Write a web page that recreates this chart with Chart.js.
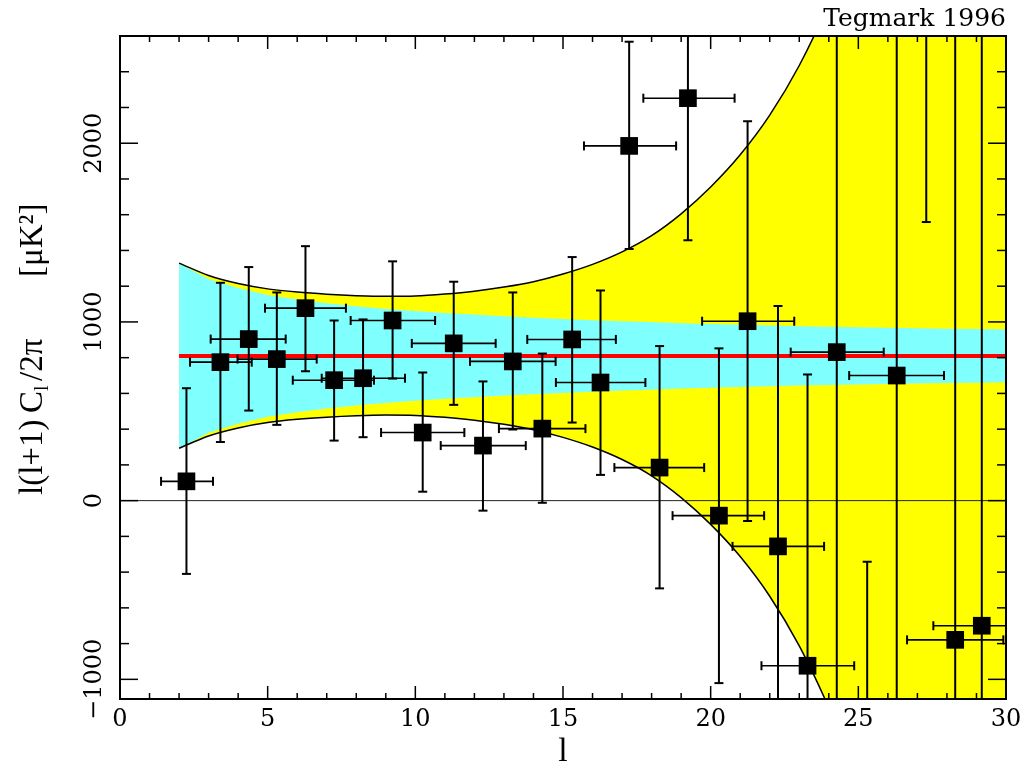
<!DOCTYPE html>
<html>
<head>
<meta charset="utf-8">
<script src="https://cdn.jsdelivr.net/npm/chart.js@4.4.1/dist/chart.umd.min.js"></script>
<style>
  body { margin: 0; background: #fff; }
  canvas { display: block; }
</style>
</head>
<body>
<canvas id="c" width="1028" height="772"></canvas>
<script>
// theory band, sampled at integer l
const bandL = [2, 3, 4, 5, 6, 7, 8, 9, 10, 11, 12, 13, 14, 15, 16, 17, 18, 19, 20, 21, 22, 23, 24, 25, 26, 27, 28, 29, 30]
const outerHi = [1329, 1260, 1215, 1185, 1167, 1155, 1147, 1143, 1145, 1156, 1172, 1195, 1225, 1268, 1322, 1392, 1483, 1605, 1755, 1935, 2157, 2435, 2780, 3180, 3650, 4200, 4800, 5500, 6300]
const outerLo = [293, 362, 407, 437, 455, 467, 475, 479, 477, 466, 450, 427, 397, 354, 300, 230, 139, 17, -133, -313, -535, -813, -1158, -1558, -2028, -2578, -3178, -3878, -4678]
const cyanHi = [1328, 1240, 1190, 1150, 1125, 1105, 1088, 1073, 1061, 1050, 1041, 1032, 1024, 1017, 1010, 1004, 999, 993, 988, 984, 980, 976, 973, 970, 967, 964, 962, 960, 958]
const cyanLo = [292, 380, 430, 470, 495, 515, 532, 547, 559, 570, 579, 588, 596, 603, 610, 616, 621, 627, 632, 636, 640, 644, 647, 650, 653, 656, 658, 660, 662]
const modelLevel = 810

// measurements: centre, vertical error range, horizontal l range
const ptL = [2.25, 3.40, 4.36, 5.31, 6.28, 7.25, 8.23, 9.23, 10.25, 11.30, 12.29, 13.30, 14.30, 15.31, 16.27, 17.24, 18.27, 19.23, 20.28, 21.25, 22.28, 23.28, 24.27, 25.30, 26.30, 27.30, 28.28, 29.18]
const ptV = [108, 775, 904, 792, 1077, 674, 685, 1008, 381, 880, 308, 779, 403, 902, 661, 1985, 185, 2252, -84, 1004, -256, -924, 831, -1800, 700, 3200, -779, -700]
const ptLo = [-410, 328, 504, 424, 724, 336, 355, 683, 50, 536, -56, 398, -12, 437, 144, 1408, -491, 1457, -1021, -114, -1500, -2600, -1500, -3500, -1500, 1559, -2500, -2500]
const ptHi = [629, 1219, 1307, 1165, 1424, 1008, 1014, 1339, 717, 1225, 667, 1165, 823, 1363, 1176, 2568, 865, 3100, 852, 2123, 1089, 706, 3100, -342, 3000, 5000, 3000, 3000]
const lLo = [1.39, 2.37, 3.07, 3.98, 4.91, 5.85, 6.83, 7.81, 8.84, 9.88, 10.86, 11.85, 12.83, 13.79, 14.76, 15.71, 16.74, 17.72, 18.71, 19.71, 20.74, 21.72, 22.71, 23.75, 24.69, 25.75, 26.65, 27.54]
const lHi = [3.15, 4.46, 5.61, 6.66, 7.65, 8.60, 9.65, 10.67, 11.66, 12.72, 13.74, 14.75, 15.76, 16.79, 17.79, 18.83, 19.78, 20.81, 21.81, 22.83, 23.84, 24.86, 25.86, 26.85, 27.90, 28.85, 29.91, 30.80]

const xTicks = [0, 5, 10, 15, 20, 25, 30]
const yTicks = [-1000, 0, 1000, 2000]

const serif = 'DejaVu Serif'
const titleSerif = 'Liberation Serif'

const pts = (xs, ys) => xs.map((v, i) => ({ x: v, y: ys[i] }))

function seg(ctx, x1, y1, x2, y2) {
	ctx.beginPath()
	ctx.moveTo(x1, y1)
	ctx.lineTo(x2, y2)
	ctx.stroke()
}

const errorBars = {
	id: 'errorBars',
	afterDatasetsDraw(chart) {
		const { ctx, chartArea: a, scales: { x, y } } = chart
		ctx.save()
		ctx.beginPath()
		ctx.rect(a.left, a.top, a.right - a.left, a.bottom - a.top)
		ctx.clip()
		ctx.strokeStyle = '#000'
		ptL.forEach((l, i) => {
			const px = x.getPixelForValue(l)
			const py = y.getPixelForValue(ptV[i])
			const y1 = y.getPixelForValue(ptLo[i])
			const y2 = y.getPixelForValue(ptHi[i])
			const x1 = x.getPixelForValue(lLo[i])
			const x2 = x.getPixelForValue(lHi[i])
			ctx.lineWidth = 2
			seg(ctx, px, y1, px, y2)
			seg(ctx, px - 4.5, y1, px + 4.5, y1)
			seg(ctx, px - 4.5, y2, px + 4.5, y2)
			ctx.lineWidth = 1.6
			seg(ctx, x1, py, x2, py)
			ctx.lineWidth = 2
			seg(ctx, x1, py - 4.5, x1, py + 4.5)
			seg(ctx, x2, py - 4.5, x2, py + 4.5)
		})
		ctx.restore()
	}
}

const frame = {
	id: 'frame',
	afterDraw(chart) {
		const { ctx, chartArea: a, scales: { x, y } } = chart
		ctx.save()
		ctx.strokeStyle = '#000'
		ctx.lineWidth = 1.5
		for (let v = 0; v <= 30; v++) {
			const px = x.getPixelForValue(v)
			const len = v % 5 === 0 ? 13 : 6
			seg(ctx, px, a.bottom, px, a.bottom - len)
			seg(ctx, px, a.top, px, a.top + len)
		}
		for (let v = -1000; v <= 2600; v += 200) {
			const py = y.getPixelForValue(v)
			const len = v % 1000 === 0 ? 18 : 9
			seg(ctx, a.left, py, a.left + len, py)
			seg(ctx, a.right, py, a.right - len, py)
		}
		ctx.lineWidth = 2
		ctx.strokeRect(a.left, a.top, a.right - a.left, a.bottom - a.top)

		// corner label
		ctx.fillStyle = '#000'
		ctx.font = '25px "' + serif + '"'
		ctx.textAlign = 'right'
		ctx.textBaseline = 'alphabetic'
		ctx.fillText('Tegmark 1996', a.right, 26)

		// y axis title, rotated, with subscript
		ctx.translate(42, 495)
		ctx.rotate(-Math.PI / 2)
		ctx.textAlign = 'left'
		ctx.font = '33px "' + titleSerif + '"'
		ctx.fillText('l(l+1)', 0, 0)
		ctx.fillText('C', 82, 0)
		ctx.font = '20px "' + titleSerif + '"'
		ctx.fillText('l', 104, 6)
		ctx.font = '33px "' + titleSerif + '"'
		ctx.fillText('/2π', 114, 0)
		ctx.fillText('[μK²]', 218, 0)
		ctx.restore()
	}
}

const ctx = document.getElementById('c').getContext('2d')

new Chart(ctx, {
	type: 'line',
	data: {
		datasets: [
			{ data: pts(bandL, outerHi), fill: '+1', backgroundColor: '#ffff00', borderWidth: 0, pointRadius: 0, cubicInterpolationMode: 'monotone', order: 10, clip: 0 },
			{ data: pts(bandL, outerLo), fill: false, borderWidth: 0, pointRadius: 0, cubicInterpolationMode: 'monotone', order: 9, clip: 0 },
			{ data: pts(bandL, cyanHi), fill: '+1', backgroundColor: '#80ffff', borderWidth: 0, pointRadius: 0, order: 8, clip: 0 },
			{ data: pts(bandL, cyanLo), fill: false, borderWidth: 0, pointRadius: 0, order: 7, clip: 0 },
			{ data: pts(bandL, outerHi), fill: false, borderColor: '#000', borderWidth: 1.5, pointRadius: 0, cubicInterpolationMode: 'monotone', order: 6, clip: 0 },
			{ data: pts(bandL, outerLo), fill: false, borderColor: '#000', borderWidth: 1.5, pointRadius: 0, cubicInterpolationMode: 'monotone', order: 5, clip: 0 },
			{ data: [{ x: 0, y: 0 }, { x: 30, y: 0 }], borderColor: '#222', borderWidth: 1, pointRadius: 0, order: 4, clip: 0 },
			{ data: [{ x: 2, y: modelLevel }, { x: 30, y: modelLevel }], borderColor: '#ff0000', borderWidth: 4, pointRadius: 0, order: 3, clip: 0 },
			{ type: 'scatter', data: pts(ptL, ptV), pointStyle: 'rect', pointRadius: 12.5, backgroundColor: '#000', borderWidth: 0, order: 0, clip: 0 }
		]
	},
	options: {
		responsive: false,
		animation: false,
		layout: { padding: { top: 36, right: 22, left: 0, bottom: 0 } },
		plugins: { legend: { display: false }, tooltip: { enabled: false } },
		scales: {
			x: {
				type: 'linear',
				min: 0,
				max: 30,
				afterBuildTicks: s => { s.ticks = xTicks.map(v => ({ value: v })) },
				grid: { display: false, drawTicks: false },
				border: { display: false },
				ticks: { color: '#000', font: { family: serif, size: 24 }, padding: 6, maxRotation: 0 },
				title: { display: true, text: 'l', color: '#000', font: { family: titleSerif, size: 34 }, padding: 0 },
				afterFit: s => { s.height = 73 }
			},
			y: {
				type: 'linear',
				min: -1110,
				max: 2600,
				afterBuildTicks: s => { s.ticks = yTicks.map(v => ({ value: v })) },
				grid: { display: false, drawTicks: false },
				border: { display: false },
				ticks: {
					color: '#000',
					font: { family: serif, size: 24 },
					minRotation: 90,
					maxRotation: 90,
					crossAlign: 'center',
					padding: -15,
					callback: v => (v < 0 ? '\u2212' + Math.abs(v) : String(v))
				},
				afterFit: s => { s.width = 120 }
			}
		}
	},
	plugins: [errorBars, frame]
})
</script>
</body>
</html>
